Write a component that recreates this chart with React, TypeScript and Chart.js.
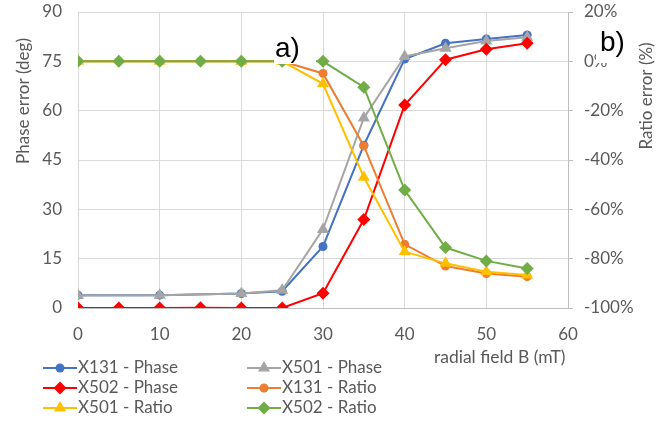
import React, { useEffect, useRef } from 'react';
import { Chart, registerables } from 'chart.js';

Chart.register(...registerables);

// ---- data ----
const xX131X501 = [0, 10, 20, 25, 30, 35, 40, 45, 50, 55];
const xX502 = [0, 5, 10, 15, 20, 25, 30, 35, 40, 45, 50, 55];

const x131Phase = [3.9, 3.9, 4.4, 5.1, 18.7, 49.5, 75.7, 80.5, 81.8, 83.0];
const x501Phase = [3.8, 3.9, 4.4, 5.4, 23.9, 57.8, 76.5, 79.0, 81.2, 82.3];
const x502Phase = [0, 0, 0, 0.1, 0, 0, 4.5, 26.9, 61.7, 75.5, 78.7, 80.5];
const x131Ratio = [0, 0, 0, 0, -4.9, -34.3, -74.2, -83.0, -86.0, -87.3];
const x501Ratio = [0, 0, 0, 0, -9.1, -47.0, -77.2, -81.9, -85.3, -86.6];
const x502Ratio = [0, 0, 0, 0, 0, 0, 0, -10.5, -52.2, -75.5, -80.9, -84.0];

const seriesNames = ['X131 - Phase', 'X501 - Phase', 'X502 - Phase', 'X131 - Ratio', 'X501 - Ratio', 'X502 - Ratio'];
const seriesColors = ['#4472C4', '#A5A5A5', '#FF0000', '#ED7D31', '#FFC000', '#70AD47'];
const seriesShapes = ['circle', 'triangle', 'rectRot', 'circle', 'triangle', 'rectRot'];

const xTicks = [0, 10, 20, 30, 40, 50, 60];
const leftTicks = [0, 15, 30, 45, 60, 75, 90];
const rightTicks = [-100, -80, -60, -40, -20, 0, 20];

const FONT = 'Lato';
const LABEL_FONT = 'Liberation Sans';
const TXT = '#595959';

const pts = (xs: number[], ys: number[]) => xs.map((x, i) => ({ x, y: ys[i] }));

function radiusFor(shape: string) {
  if (shape === 'circle') return 4.5;
  if (shape === 'triangle') return 7;
  return 6.5;
}

function drawMarker(ctx: CanvasRenderingContext2D, shape: string, x: number, y: number, color: string) {
  const r = radiusFor(shape);
  ctx.beginPath();
  if (shape === 'circle') {
    ctx.arc(x, y, r, 0, Math.PI * 2);
  } else if (shape === 'triangle') {
    for (let k = 0; k < 3; k++) {
      const a = (k * 2 * Math.PI) / 3;
      const px = x + Math.sin(a) * r;
      const py = y - Math.cos(a) * r;
      if (k === 0) ctx.moveTo(px, py);
      else ctx.lineTo(px, py);
    }
    ctx.closePath();
  } else {
    ctx.moveTo(x - r, y);
    ctx.lineTo(x, y - r);
    ctx.lineTo(x + r, y);
    ctx.lineTo(x, y + r);
    ctx.closePath();
  }
  ctx.fillStyle = color;
  ctx.fill();
}

const decorPlugin = {
  id: 'decor',
  afterDraw(chart: any) {
    const ctx: CanvasRenderingContext2D = chart.ctx;
    const ca = chart.chartArea;
    ctx.save();
    ctx.fillStyle = TXT;
    ctx.font = `17px "${FONT}"`;
    ctx.textAlign = 'center';
    ctx.textBaseline = 'middle';

    // left axis title
    ctx.save();
    ctx.translate(ca.left - 54, ca.top + 89);
    ctx.rotate(-Math.PI / 2);
    ctx.fillText('Phase error (deg)', 0, 0);
    ctx.restore();

    // right axis title (reads bottom to top)
    ctx.save();
    ctx.translate(ca.right + 79, ca.top + 84);
    ctx.rotate(-Math.PI / 2);
    ctx.fillText('Ratio error (%)', 0, 0);
    ctx.restore();

    // x axis title
    ctx.textAlign = 'left';
    ctx.font = `17.5px "${FONT}"`;
    ctx.fillText('radial field B (mT)', ca.left + 356, ca.bottom + 49);
    ctx.font = `17px "${FONT}"`;

    // legend
    const cols = [ca.left - 35, ca.left + 169];
    const rows = [ca.bottom + 60, ca.bottom + 80, ca.bottom + 100];
    seriesNames.forEach((name, i) => {
      const cx = cols[i % 2];
      const cy = rows[Math.floor(i / 2)];
      ctx.strokeStyle = seriesColors[i];
      ctx.lineWidth = 2;
      ctx.beginPath();
      ctx.moveTo(cx, cy);
      ctx.lineTo(cx + 34, cy);
      ctx.stroke();
      drawMarker(ctx, seriesShapes[i], cx + 17, cy, seriesColors[i]);
      ctx.fillStyle = TXT;
      ctx.textAlign = 'left';
      ctx.fillText(name, cx + 35, cy);
    });

    // panel labels (text boxes with white fill)
    ctx.fillStyle = '#FFFFFF';
    ctx.fillRect(ca.left + 196, ca.top + 20, 42, 32);
    ctx.fillRect(ca.right + 28, ca.top + 10, 40, 41);
    ctx.fillStyle = '#000000';
    ctx.font = `28px "${LABEL_FONT}"`;
    ctx.textAlign = 'left';
    ctx.textBaseline = 'alphabetic';
    ctx.fillText('a)', ca.left + 197, ca.top + 44.5);
    ctx.fillText('b)', ca.right + 32, ca.top + 39);
    ctx.restore();
  },
};

export default function App() {
  const ref = useRef<HTMLCanvasElement>(null);

  useEffect(() => {
    document.body.style.margin = '0';
    const ctx = ref.current!.getContext('2d')!;
    const ys = [x131Phase, x501Phase, x502Phase, x131Ratio, x501Ratio, x502Ratio];
    const xs = [xX131X501, xX131X501, xX502, xX131X501, xX131X501, xX502];
    const datasets = seriesNames.map((name, i) => ({
      label: name,
      data: pts(xs[i], ys[i]),
      yAxisID: i < 3 ? 'y' : 'y1',
      borderColor: seriesColors[i],
      backgroundColor: seriesColors[i],
      pointBackgroundColor: seriesColors[i],
      pointBorderColor: seriesColors[i],
      pointBorderWidth: 0,
      pointStyle: seriesShapes[i],
      pointRadius: radiusFor(seriesShapes[i]),
      borderWidth: 2,
      tension: 0,
      order: 6 - i,
    }));

    const zeroPad = (s: any) => {
      s.paddingTop = 0;
      s.paddingBottom = 0;
      s.paddingLeft = 0;
      s.paddingRight = 0;
    };

    const tickFont = { family: FONT, size: 17 };
    const chart = new Chart(ctx, {
      type: 'line',
      data: { datasets },
      plugins: [decorPlugin],
      options: {
        animation: false,
        responsive: true,
        maintainAspectRatio: false,
        layout: { padding: { left: 0, right: 0, top: 12, bottom: 0 } },
        plugins: { legend: { display: false }, tooltip: { enabled: false } },
        scales: {
          x: {
            type: 'linear',
            min: 0,
            max: 60,
            afterBuildTicks: (s: any) => { s.ticks = xTicks.map((v) => ({ value: v })); },
            afterFit: (s: any) => { s.height = 114; zeroPad(s); },
            ticks: { color: TXT, font: tickFont, padding: 16 },
            grid: { color: '#D9D9D9', drawTicks: false },
            border: { color: '#BFBFBF' },
          },
          y: {
            type: 'linear',
            position: 'left',
            min: 0,
            max: 90,
            afterBuildTicks: (s: any) => { s.ticks = leftTicks.map((v) => ({ value: v })); },
            afterFit: (s: any) => { s.width = 78; zeroPad(s); },
            ticks: { color: TXT, font: tickFont, padding: 16 },
            grid: { color: '#D9D9D9', drawTicks: false },
            border: { color: '#D9D9D9' },
          },
          y1: {
            type: 'linear',
            position: 'right',
            min: -100,
            max: 20,
            afterBuildTicks: (s: any) => { s.ticks = rightTicks.map((v) => ({ value: v })); },
            afterFit: (s: any) => { s.width = 100; zeroPad(s); },
            ticks: { color: TXT, font: tickFont, padding: 11, callback: (v: any) => v + '%' },
            grid: { drawOnChartArea: false, color: '#BFBFBF', tickLength: 5 },
            border: { color: '#BFBFBF' },
          },
        },
      },
    });
    return () => chart.destroy();
  }, []);

  return (
    <div style={{ position: 'absolute', left: 0, top: 0, width: 668, height: 422, background: '#fff' }}>
      <canvas ref={ref} />
    </div>
  );
}
